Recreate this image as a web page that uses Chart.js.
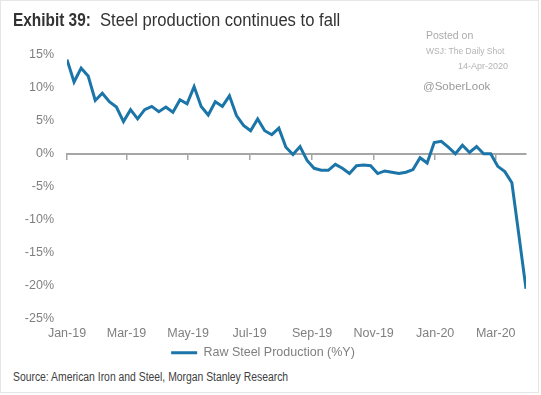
<!DOCTYPE html>
<html><head><meta charset="utf-8">
<script src="https://cdn.jsdelivr.net/npm/chart.js@4.4.1/dist/chart.umd.min.js"></script>
<style>
html,body{margin:0;padding:0;background:#fff;}
body{width:541px;height:395px;position:relative;overflow:hidden;font-family:"Liberation Sans",Arial,sans-serif;}
#frame{position:absolute;left:0;top:0;width:537px;height:391px;border:1px solid #e6e6e6;}
#chartWrap{position:absolute;left:0;top:0;width:541px;height:369px;}
.t{position:absolute;white-space:nowrap;line-height:1;transform-origin:0 0;}
</style></head><body>
<div id="frame"></div>
<div id="chartWrap"><canvas id="c" width="541" height="369"></canvas></div>
<div class="t" style="left:13px;top:12px;font-size:17.5px;font-weight:bold;color:#333;transform:scaleX(0.88);">Exhibit 39:</div>
<div class="t" style="left:100px;top:12px;font-size:17.5px;color:#333;transform:scaleX(0.95);">Steel production continues to fall</div>
<div class="t" style="left:426px;top:30px;font-size:10.5px;color:#aaa;">Posted on</div>
<div class="t" style="left:426px;top:47px;font-size:8.5px;color:#b3b3b3;">WSJ: The Daily Shot</div>
<div class="t" style="left:458px;top:62px;font-size:9px;color:#b3b3b3;">14-Apr-2020</div>
<div class="t" style="left:423px;top:81px;font-size:11.5px;color:#9a9a9a;">@SoberLook</div>
<div class="t" style="left:13px;top:371px;font-size:12.5px;color:#404040;transform:scaleX(0.83);">Source: American Iron and Steel, Morgan Stanley Research</div>
<script>
// Weekly raw steel production, % change year over year (Jan-2019 .. early Apr-2020)
const values = [14.3, 10.9, 13.0, 11.8, 8.1, 9.2, 7.9, 7.1, 4.9, 6.7,
  5.3, 6.7, 7.2, 6.4, 7.1, 6.3, 8.2, 7.6, 10.2, 7.2,
  5.9, 7.9, 7.2, 8.8, 5.8, 4.3, 3.5, 5.3, 3.5, 2.9,
  3.9, 1.0, -0.1, 1.1, -1.0, -2.2, -2.5, -2.5, -1.6, -2.2,
  -3.0, -1.8, -1.7, -1.8, -3.0, -2.6, -2.8, -3.0, -2.8, -2.4,
  -0.6, -1.4, 1.7, 1.9, 1.0, 0.0, 1.3, 0.2, 1.1, 0.0,
  0.0, -1.9, -2.7, -4.4, -12.4, -20.5];
const seriesName = 'Raw Steel Production (%Y)';
// x-axis tick labels and their day offsets from 1-Jan-2019
const tickLabels = ['Jan-19', 'Mar-19', 'May-19', 'Jul-19', 'Sep-19', 'Nov-19', 'Jan-20', 'Mar-20'];
const tickDays = [0, 59, 120, 181, 243, 304, 365, 425];
const yTicks = [-25, -20, -15, -10, -5, 0, 5, 10, 15];

const lineColor = '#1b75a9';
const tickColor = '#7f7f7f';
const tickWeeks = tickDays.map(d => d / 7);
const points = values.map((v, i) => ({x: i, y: v}));
const setTicks = s => { s.ticks = tickWeeks.map(v => ({value: v})); };

Chart.defaults.font.family = "'Liberation Sans', Arial, sans-serif";

new Chart(document.getElementById('c'), {
  type: 'line',
  data: {
    datasets: [{
      label: seriesName,
      data: points,
      borderColor: lineColor,
      backgroundColor: lineColor,
      borderWidth: 3,
      pointRadius: 0,
      tension: 0,
      fill: false
    }]
  },
  options: {
    responsive: false,
    animation: false,
    layout: {padding: {top: 55, right: 15, left: 0, bottom: 0}},
    plugins: {
      tooltip: {enabled: false},
      legend: {
        position: 'bottom',
        labels: {
          boxWidth: 26, boxHeight: 3, padding: 4, color: tickColor,
          font: {size: 12.5},
          generateLabels: chart => Chart.defaults.plugins.legend.labels.generateLabels(chart)
            .map(l => Object.assign(l, {lineWidth: 0, fillStyle: lineColor}))
        }
      }
    },
    scales: {
      x: {
        type: 'linear', min: 0, max: values.length - 1,
        afterBuildTicks: setTicks,
        afterFit: s => { s.height = 24; },
        ticks: {autoSkip: false, maxRotation: 0, color: tickColor, font: {size: 12.5}, padding: 8,
          callback: (v, i) => tickLabels[i]},
        grid: {display: false, drawTicks: false},
        border: {display: false}
      },
      x2: {
        type: 'linear', position: {y: 0}, min: 0, max: values.length - 1,
        afterBuildTicks: setTicks,
        ticks: {display: false},
        grid: {drawOnChartArea: false, drawTicks: true, tickLength: 5, color: '#a6a6a6', lineWidth: 1.5},
        border: {color: '#a6a6a6', width: 2}
      },
      y: {
        min: -25, max: 15,
        afterBuildTicks: s => { s.ticks = yTicks.map(v => ({value: v})); },
        afterFit: s => { s.width = 67; },
        ticks: {color: tickColor, font: {size: 12.5}, padding: 13, callback: v => v + '%'},
        grid: {display: false, drawTicks: false},
        border: {display: false}
      }
    }
  }
});
</script>
</body></html>
